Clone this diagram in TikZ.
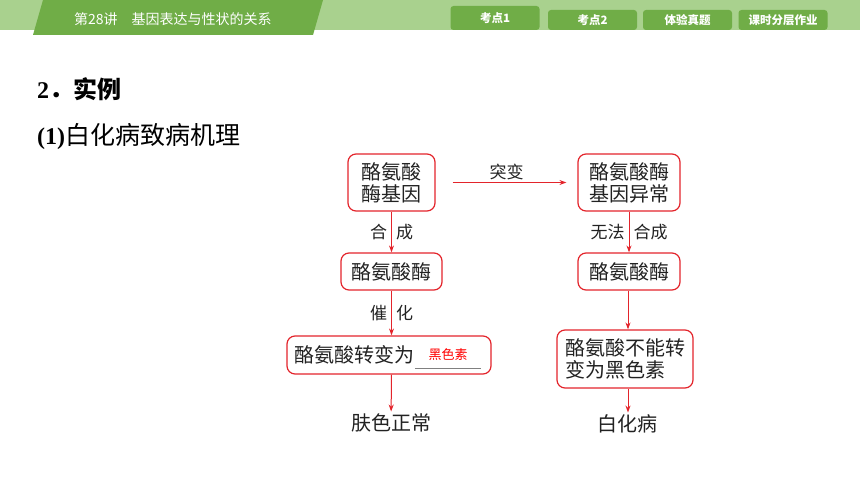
\documentclass[tikz,border=0pt]{standalone}
\usepackage{fontspec}
\setmainfont{Noto Sans CJK SC}
\newfontfamily\timesfont{Liberation Serif}
\usetikzlibrary{arrows.meta,positioning}
\definecolor{hdlight}{HTML}{A9D18E}
\definecolor{hddark}{HTML}{70AD47}
\definecolor{flowred}{HTML}{E3242B}
\definecolor{inkgray}{HTML}{222222}
\tikzset{
  redbox/.style={draw=flowred,line width=1.2pt,rounded corners=8pt,inner sep=0pt,
    text=inkgray,font=\fontsize{20}{22}\selectfont,align=center},
  plain/.style={inner sep=2pt,text=inkgray,font=\fontsize{20}{22}\selectfont},
  lab/.style={inner sep=4pt,text=inkgray,font=\fontsize{17}{18}\selectfont},
  flow/.style={-{Stealth[length=7pt,width=5pt]},draw=flowred,line width=1pt},
  tab/.style={fill=hddark,rounded corners=3pt,text=white,inner sep=0pt,
    font=\bfseries\fontsize{11.5}{12}\selectfont,minimum width=89pt,minimum height=20pt}
}
\begin{document}
\begin{tikzpicture}[x=1pt,y=-1pt,>=stealth]
        \useasboundingbox (0,0) rectangle (860,484);
        % header band
        \fill[hdlight] (0,0) rectangle (860,30);
        \fill[hddark] (43,0) -- (323,0) -- (313,35) -- (33,35) -- cycle;
        \node[anchor=west,inner sep=0pt,text=white,font=\fontsize{14}{14}\selectfont] (title) at (74,19) {第28讲\quad 基因表达与性状的关系};
        \node[tab,minimum height=24pt] (tab1) at (495,18) {考点1};
        \foreach \txt/\cx/\nm in {考点2/592.5/two, 体验真题/687.5/three, 课时分层作业/783/four}
            {
                \node[tab] (tab\nm) at (\cx,20) {\txt};
            }
        % headings
        \node[anchor=west,inner sep=0pt,font=\fontsize{24}{24}\selectfont] (sec) at (37,89) {{\timesfont\bfseries 2}\textbf{．实例}};
        \node[anchor=west,inner sep=0pt,font=\fontsize{24}{24}\selectfont] (sub) at (37,137) {{\timesfont\bfseries (1)}{\fontsize{25}{25}\selectfont 白化病致病机理}};
        % left column
        \node[redbox,minimum width=87pt,minimum height=57pt] (gene) at (391.5,182.5) {酪氨酸\\酶基因};
        \node[redbox,minimum width=101pt,minimum height=37pt] (enz) at (391.5,271.5) {酪氨酸酶};
        \node[redbox,minimum width=204pt,minimum height=38pt] (conv) at (389,355) {酪氨酸转变为\hspace{70pt}};
        \node[inner sep=0pt,minimum width=66pt,minimum height=26pt,text=red,font=\fontsize{13}{13}\selectfont] (blank) at (448,355) {黑色素};
        \draw[gray,line width=1pt] (blank.south west) -- (blank.south east);
        \node[plain] (skin) at (391,423) {肤色正常};
        % right column
        \node[redbox,minimum width=102pt,minimum height=57pt] (mut) at (629,182.5) {酪氨酸酶\\基因异常};
        \node[redbox,minimum width=102pt,minimum height=37pt] (enzr) at (629,271.5) {酪氨酸酶};
        \node[redbox,minimum width=136pt,minimum height=58pt,align=left] (noconv) at (625,359) {酪氨酸不能转\\变为黑色素};
        \node[plain] (albino) at (627,424) {白化病};
        % arrows
        \draw[flow,shorten <=17pt,shorten >=11pt] (gene) -- (mut) node[lab,midway,above,inner sep=2pt] {突变};
        \draw[flow] (gene) -- (enz) node[lab,midway,left] {合} node[lab,midway,right] {成};
        \draw[flow] (enz.south) -- (enz.south |- conv.north) node[lab,midway,left] {催} node[lab,midway,right] {化};
        \draw[flow] (enz.south |- conv.south) -- (skin);
        \draw[flow] (mut) -- (enzr) node[lab,midway,left] {无法} node[lab,midway,right] {合成};
        \draw[flow] (enzr.south -| 628,0) -- (noconv.north -| 628,0);
        \draw[flow] (noconv.south -| 628,0) -- (albino.north -| 628,0);
    \end{tikzpicture}
\end{document}
